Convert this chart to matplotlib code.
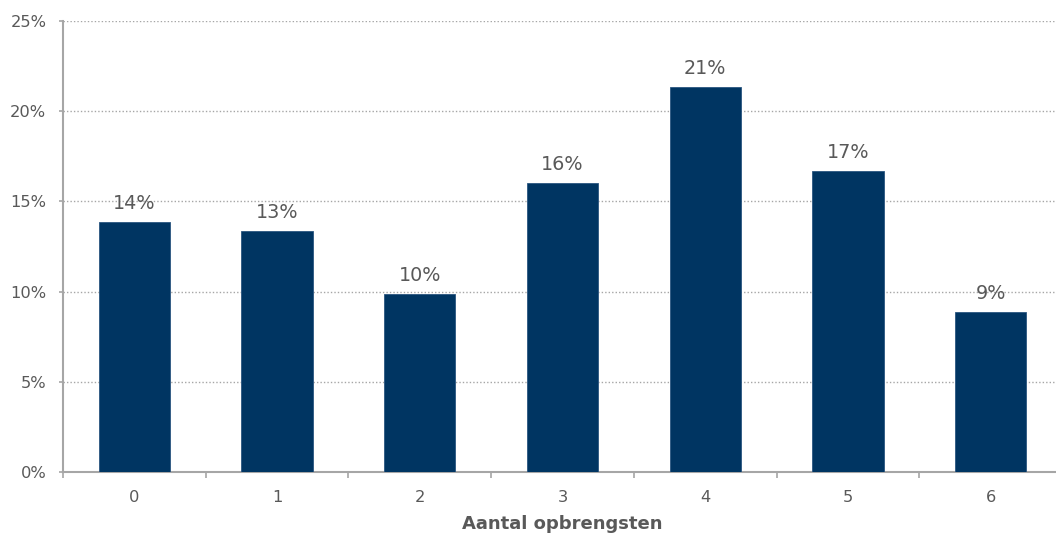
import matplotlib
matplotlib.use("Agg")
import matplotlib.pyplot as plt
import numpy as np

categories = ["0", "1", "2", "3", "4", "5", "6"]
values = [13.85, 13.35, 9.85, 16.02, 21.35, 16.7, 8.85]
labels = ["14%", "13%", "10%", "16%", "21%", "17%", "9%"]
yticks = [0, 5, 10, 15, 20, 25]
ytick_labels = ["0%", "5%", "10%", "15%", "20%", "25%"]

plt.rcParams['font.family'] = ['DejaVu Sans']
W, H = 1056, 533
fig = plt.figure(figsize=(W / 100, H / 100), dpi=100)
ax = fig.add_axes([63 / W, (H - 471.5) / H, (1062 - 63) / W, 450 / H])

text_col = '#595959'
bar_col = '#003562'
x = np.arange(len(categories))
ax.bar(x, values, width=0.5, color=bar_col, edgecolor='#2a5580', linewidth=0.6, zorder=3)

for xi, v, lab in zip(x, values, labels):
    ax.annotate(lab, (xi, v), xytext=(0, 9.4), textcoords='offset points',
                ha='center', va='baseline', fontsize=13.8, color=text_col, zorder=4)

ax.set_xlim(-0.5, len(categories) - 0.5)
ax.set_ylim(0, 25)
ax.set_yticks(yticks)
ax.set_yticklabels(ytick_labels)
ax.set_xticks(x)
ax.set_xticklabels(categories)
ax.set_xticks(np.arange(-0.5, len(categories), 1.0), minor=True)

ax.grid(axis='y', linestyle=(0, (1, 1.5)), color='#a6a6a6', linewidth=1, zorder=0)
ax.set_axisbelow(True)

for s in ['top', 'right']:
    ax.spines[s].set_visible(False)
for s in ['left', 'bottom']:
    ax.spines[s].set_color('#a6a6a6')
    ax.spines[s].set_linewidth(1.5)

ax.tick_params(axis='y', which='major', length=3, width=1.2, color='#a6a6a6',
               pad=9, labelsize=11.7, labelcolor=text_col)
ax.tick_params(axis='x', which='major', length=0, pad=13, labelsize=11.7, labelcolor=text_col)
ax.tick_params(axis='x', which='minor', length=4, width=1.2, color='#a6a6a6', direction='out')

ax.set_xlabel("Aantal opbrengsten", fontsize=13, fontweight='bold', color=text_col, labelpad=7.5)

fig.savefig("out.png", dpi=100)
